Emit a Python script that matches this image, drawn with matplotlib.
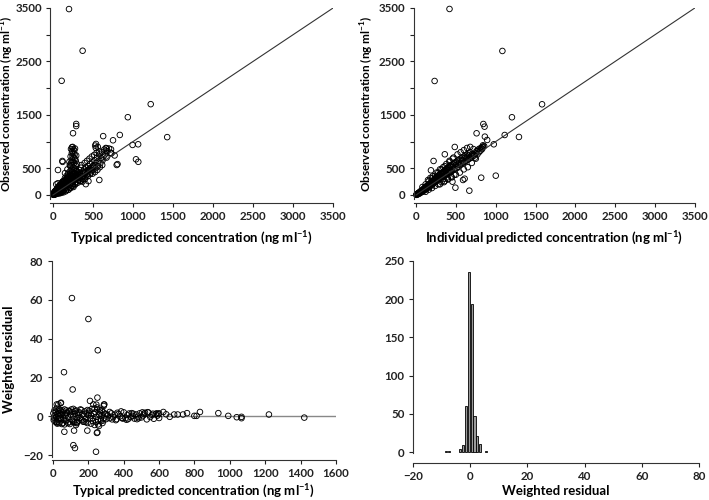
import matplotlib
matplotlib.use("Agg")
import matplotlib.pyplot as plt
import numpy as np

# ---- panel 1: observed vs typical predicted concentration (ng/ml) ----
typ_pred = [
    2, 5, 8, 10, 12, 15, 18, 20, 22, 25,
    28, 30, 32, 35, 38, 40, 42, 45, 48, 50,
    52, 55, 58, 60, 62, 65, 68, 70, 72, 75,
    78, 80, 82, 85, 88, 90, 92, 95, 98, 100,
    102, 105, 108, 110, 112, 115, 118, 120, 40, 60,
    15, 25, 35, 45, 55, 65, 75, 85, 95, 105,
    125, 130, 135, 140, 145, 150, 155, 160, 165, 170,
    175, 180, 185, 190, 195, 200, 205, 210, 215, 220,
    225, 230, 235, 240, 245, 250, 255, 260, 265, 270,
    275, 280, 285, 290, 295, 300, 128, 148, 168, 188,
    208, 228, 248, 268, 288, 142, 162, 182, 202, 222,
    242, 262, 282, 302, 318, 196, 216, 236, 256, 276,
    215, 225, 235, 245, 255, 265, 275, 285, 230, 250,
    260, 270, 240, 220, 280, 290, 245, 265, 255, 235,
    205, 300, 275, 225, 120, 150, 180, 210,
    310, 320, 330, 340, 350, 360, 370, 380, 390, 400,
    410, 420, 430, 440, 450, 460, 470, 480, 490, 500,
    510, 520, 530, 540, 550, 560, 570, 580, 590, 600,
    610, 620, 630, 640, 650, 660, 670, 680, 700, 720,
    345, 375, 405, 435, 465, 495, 525, 555, 585, 615,
    355, 395, 425, 455, 485, 515, 545, 575, 535, 560,
    10, 20, 30, 40, 50, 60, 70, 80, 90, 100,
    110, 130, 150, 170, 190, 210, 230, 250, 270, 290,
    115, 135, 155, 175, 195, 215, 235, 255, 275, 295,
    320, 340, 360, 380, 400, 420, 440, 460, 480, 500,
    130, 160, 190, 220, 250, 280, 310, 340, 370, 400,
    200, 370, 108, 1221, 935, 290, 290, 250, 627, 835,
    1427, 750, 994, 1064, 537, 527, 237, 1037, 1066, 796,
    806, 117, 62, 579, 443, 410, 670, 725, 730, 770, 660,
]
obs_typ = [
    5, 15, 3, 25, 10, 35, 8, 45, 20, 55,
    12, 30, 65, 18, 50, 80, 28, 95, 40, 110,
    22, 70, 130, 45, 90, 150, 35, 115, 60, 170,
    80, 140, 30, 100, 190, 55, 125, 75, 210, 160,
    40, 110, 230, 85, 180, 130, 60, 250, 200, 220,
    50, 70, 90, 60, 100, 110, 130, 60, 170, 190,
    150, 80, 200, 270, 110, 320, 180, 240, 90, 360,
    130, 290, 210, 400, 160, 340, 250, 440, 190, 380,
    300, 480, 230, 420, 350, 200, 520, 270, 460, 330,
    400, 240, 490, 370, 300, 420, 260, 230, 300, 330,
    320, 360, 390, 410, 450, 180, 160, 250, 270, 230,
    280, 300, 330, 360, 390, 100, 140, 170, 150, 210,
    540, 600, 660, 720, 780, 830, 870, 640, 560, 620,
    700, 760, 820, 720, 560, 740, 900, 600, 860, 780,
    620, 580, 680, 860, 620, 410, 480, 560,
    430, 330, 470, 380, 510, 300, 440, 360, 480, 410,
    520, 450, 390, 540, 470, 580, 420, 510, 610, 460,
    560, 650, 500, 600, 700, 540, 640, 760, 590, 690,
    800, 650, 720, 850, 760, 880, 700, 820, 870, 790,
    260, 290, 330, 350, 390, 400, 430, 470, 520, 560,
    560, 600, 640, 680, 720, 750, 790, 820, 880, 900,
    30, 60, 20, 70, 40, 100, 70, 50, 100, 140,
    160, 120, 210, 190, 250, 290, 260, 300, 280, 340,
    210, 240, 280, 320, 360, 400, 440, 400, 350, 450,
    280, 320, 350, 400, 430, 380, 470, 500, 460, 540,
    50, 70, 100, 130, 170, 200, 230, 260, 250, 300,
    3480, 2700, 2137, 1700, 1456, 1330, 1290, 1156, 1102, 1124,
    1083, 1024, 937, 949, 955, 925, 893, 668, 621, 562,
    578, 637, 468, 281, 259, 203, 874, 855, 780, 740, 830,
]

# ---- panel 2: observed vs individual predicted concentration ----
ind_pred = [
    3, 6, 10, 14, 18, 22, 26, 30, 35, 40,
    45, 50, 55, 60, 65, 70, 75, 80, 85, 90,
    95, 100, 105, 110, 115, 120, 125, 130, 135, 140,
    145, 150, 155, 160, 165, 170, 175, 180, 185, 190,
    195, 200, 205, 210, 215, 220, 225, 230, 235, 240,
    245, 250, 255, 260, 265, 270, 275, 280, 285, 290,
    295, 300, 305, 310, 315, 320, 325, 330, 335, 340,
    345, 350, 355, 360, 365, 370, 375, 380, 385, 390,
    395, 400, 405, 410, 415, 420, 425, 430, 435, 440,
    450, 460, 470, 480, 490, 500, 510, 520, 530, 540,
    550, 560, 570, 580, 590, 600, 610, 620, 630, 640,
    650, 660, 670, 680, 690, 700, 710, 720, 730, 740,
    750, 760, 770, 780, 790, 800, 810, 820, 830, 840,
    120, 160, 200, 240, 280, 320, 360, 400, 440, 480,
    80, 120, 160, 200, 240, 280, 320, 360, 420, 460,
    20, 40, 60, 80, 100, 130, 160, 190, 220, 250,
    150, 180, 210, 260, 300, 340, 380, 420, 470, 520,
    560, 600, 640, 680, 720, 300, 350, 400, 450, 500,
    550, 600, 650, 700, 750, 520, 580, 640, 700, 760,
    380, 420, 460, 500, 540, 580, 620, 660, 260, 300,
    420, 1084, 233, 1582, 1204, 845, 860, 760, 1113, 1292,
    864, 893, 976, 486, 361, 220, 187, 1001, 818, 610,
    590, 669, 494, 457, 830, 840, 820, 855,
]
obs_ind = [
    5, 2, 12, 20, 10, 28, 18, 35, 25, 50,
    30, 60, 45, 75, 50, 85, 60, 95, 70, 110,
    80, 120, 90, 140, 100, 150, 115, 165, 125, 170,
    135, 190, 150, 200, 145, 210, 165, 220, 175, 235,
    190, 250, 200, 260, 215, 280, 225, 290, 240, 310,
    250, 320, 260, 340, 270, 350, 290, 360, 300, 370,
    310, 390, 320, 400, 330, 410, 340, 420, 350, 430,
    300, 440, 360, 460, 370, 470, 380, 480, 390, 500,
    330, 510, 410, 520, 420, 540, 430, 550, 440, 560,
    450, 580, 470, 600, 490, 620, 510, 640, 530, 660,
    560, 680, 580, 700, 600, 720, 620, 740, 640, 760,
    660, 780, 680, 800, 700, 740, 720, 760, 740, 700,
    780, 820, 760, 850, 800, 870, 830, 880, 860, 900,
    60, 100, 130, 170, 200, 240, 260, 300, 340, 380,
    150, 200, 260, 310, 360, 420, 480, 540, 620, 680,
    25, 45, 55, 85, 100, 130, 175, 190, 220, 270,
    280, 320, 350, 420, 480, 520, 580, 640, 700, 760,
    800, 840, 880, 900, 860, 200, 240, 290, 330, 380,
    420, 480, 520, 600, 680, 580, 640, 700, 760, 820,
    420, 470, 520, 560, 600, 650, 700, 740, 300, 340,
    3482, 2696, 2134, 1698, 1455, 1329, 1279, 1155, 1123, 1086,
    1092, 1030, 949, 899, 762, 637, 462, 362, 324, 305,
    281, 81, 137, 249, 900, 930, 870, 915,
]

# ---- panel 3: weighted residual vs typical predicted concentration ----
typ_pred_res = [
    2, 5, 8, 10, 12, 15, 18, 20, 22, 25,
    28, 30, 32, 35, 38, 40, 42, 45, 48, 50,
    55, 60, 65, 70, 75, 80, 85, 90, 95, 100,
    105, 110, 115, 120, 125, 130, 135, 140, 145, 150,
    155, 160, 165, 170, 175, 180, 185, 190, 195, 200,
    205, 210, 215, 220, 225, 230, 235, 240, 245, 250,
    255, 260, 265, 270, 275, 280, 285, 290, 295, 300,
    15, 35, 55, 75, 95, 115, 135, 155, 175, 195,
    215, 235, 255, 275, 65, 130, 245, 260, 270, 250,
    310, 320, 330, 340, 350, 360, 370, 380, 390, 400,
    410, 420, 430, 440, 450, 460, 470, 480, 490, 500,
    510, 520, 530, 540, 550, 560, 570, 580, 590, 600,
    320, 355, 385, 415, 445, 475, 505, 535, 565, 595,
    4, 14, 24, 34, 44, 54, 64, 74, 84, 94,
    104, 114, 124, 134, 144, 164, 184, 204, 224, 244,
    264, 284, 304, 334, 364, 394, 424, 454, 484, 514,
    624, 640, 660, 685, 705, 735, 758, 799, 812, 831,
    935, 991, 1039, 1066, 1066, 1221, 1421, 585, 600,
    107, 200, 253, 62, 111, 209, 251, 21, 43, 288,
    287, 64, 119, 194, 251, 248, 115, 124, 243, 30,
    45, 228, 290, 21, 134,
]
wres = [
    1.5, -1, 3, 0.5, -2.5, 2, -0.5, 4, -3, 1,
    -1.5, 2.5, 0, -3.5, 1.5, -0.8, 3, -2, 0.8, -4,
    2, -1, 3.5, 0.3, -2.5, 1.8, -0.5, 2.8, -3, 0.8,
    -1.8, 2.2, 0, -3.2, 1.2, 3, -1, 0.5, -2.2, 2,
    -0.8, 3.2, 1, -2.8, 0.2, 2.5, -1.5, 1.5, -3.5, 0.6,
    2.8, -1.2, 0.4, 3.8, -2.5, 1.2, -4.5, 2.2, -0.3, 4.5,
    -2, 1, 3, -1.5, 0.5, -3.5, 2, -0.8, 1.2, -1.5,
    -3, 3.5, -3.5, 3, -4, 3.8, -3, 3.5, -2.8, 3.2,
    -3.8, 4, -4.2, 3, -4.2, -4.5, 6, -5, -2.5, 3.5,
    0.5, -1, 1.5, -0.5, 0.8, -1.5, 1.2, 0, -0.8, 2,
    -1, 0.6, 1.4, -0.4, 0.2, -1.2, 0.9, -0.2, 1.5, -0.6,
    0.4, 1.8, -1.6, 1.9, -0.4, 0.7, -1.3, 1.0, 0.3, -0.9,
    2.2, -2, 2.5, -1.8, 1.6, -1.5, 2.0, 2.1, 1.3, 1.1,
    -2, 2.5, -3.8, 1.2, -1, 3, -2, 1.5, -3.5, 2.5,
    3.5, -2.8, 2.6, -3.6, 1.8, -2, -3, 1.8, -1, -3,
    2, -2.2, 1, -1.6, 1.8, -1.2, -1.5, 1.3, -1, 1.2,
    2.2, 1.0, -0.3, 0.9, 0.9, 0.9, 1.6, 0.2, 0.2, 2.2,
    1.6, 0.2, -0.5, -0.3, -1.0, 0.9, -0.7, 1.5, 1.5,
    60.9, 50.1, 34.0, 22.7, 13.8, 7.9, 9.6, 6.1, 6.7, 6.0,
    5.3, -8.0, -7.4, -7.4, -8.3, -8.6, -14.9, -16.4, -18.3, 6.1,
    7.0, 6.1, 6.1, -3.2, -3.2,
]

# ---- panel 4: histogram of weighted residuals ----
wres_bins = [-8.5, -7.5, -3.5, -2.5, -1.5, -0.5, 0.5, 1.5, 2.5, 3.5, 5.5]
wres_counts = [1, 1, 4, 9, 60, 236, 194, 47, 21, 11, 1]

plt.rcParams['font.family'] = ['Lato', 'DejaVu Sans']
plt.rcParams['font.weight'] = 'bold'
plt.rcParams['axes.labelweight'] = 'bold'
plt.rcParams['mathtext.fontset'] = 'custom'
plt.rcParams['mathtext.rm'] = 'Lato'
plt.rcParams['mathtext.bf'] = 'Lato:bold'

unit = r'(ng ml$^{\mathbf{-1}}$)'


def style(ax, bottom_off):
    for s in ['top', 'right']:
        ax.spines[s].set_visible(False)
    ax.spines['bottom'].set_position(('outward', bottom_off))
    for s in ['left', 'bottom']:
        ax.spines[s].set_linewidth(0.8)
        ax.spines[s].set_color('#333333')
    ax.tick_params(direction='out', length=3, width=0.8, labelsize=8.3,
                   pad=3, colors='#222222')
    for lab in ax.get_xticklabels() + ax.get_yticklabels():
        lab.set_fontweight('bold')


fig = plt.figure(figsize=(7.09, 5.0), dpi=100)
circ = dict(s=16, facecolors='none', edgecolors='black', linewidths=0.65, clip_on=False)

# panel 1
ax1 = fig.add_axes([0.0708, 0.602, 0.399, 0.382])
ax1.scatter(typ_pred, obs_typ, **circ)
ax1.plot([0, 3500], [0, 3500], color='#333333', lw=0.8)
ax1.set_xlim(-35, 3500)
ax1.set_ylim(-75, 3500)
ax1.set_xticks(np.arange(0, 3501, 500))
ax1.set_yticks(np.arange(0, 3501, 500))
ax1.set_yticklabels(['0', '500', '', '1500', '', '2500', '', '3500'])
ax1.set_xlabel('Typical predicted concentration ' + unit, fontsize=9.5, labelpad=5)
ax1.set_ylabel('Observed concentration ' + unit, fontsize=8.5)
ax1.yaxis.set_label_coords(-0.12, 0.5)
style(ax1, 3)

# panel 2
ax2 = fig.add_axes([0.584, 0.602, 0.396, 0.382])
ax2.scatter(ind_pred, obs_ind, **circ)
ax2.plot([0, 3500], [0, 3500], color='#333333', lw=0.8)
ax2.set_xlim(-25, 3500)
ax2.set_ylim(-75, 3500)
ax2.set_xticks(np.arange(0, 3501, 500))
ax2.set_yticks(np.arange(0, 3501, 500))
ax2.set_yticklabels(['0', '500', '', '1500', '', '2500', '', '3500'])
ax2.set_xlabel('Individual predicted concentration ' + unit, fontsize=9.5, labelpad=5)
ax2.set_ylabel('Observed concentration ' + unit, fontsize=8.5)
ax2.yaxis.set_label_coords(-0.135, 0.5)
style(ax2, 3)

# panel 3
ax3 = fig.add_axes([0.0728, 0.086, 0.401, 0.392])
ax3.axhline(0, color='#888888', lw=1.0, zorder=0)
ax3.scatter(typ_pred_res, wres, **circ)
ax3.set_xlim(-8, 1600)
ax3.set_ylim(-21, 80)
ax3.set_xticks(np.arange(0, 1601, 200))
ax3.set_yticks(np.arange(-20, 81, 20))
ax3.set_yticklabels(['\u221220', '0', '20', '40', '60', '80'])
ax3.set_xlabel('Typical predicted concentration ' + unit, fontsize=9.5, labelpad=3)
ax3.set_ylabel('Weighted residual', fontsize=9.5)
ax3.yaxis.set_label_coords(-0.13, 0.5)
style(ax3, 2)

# panel 4
ax4 = fig.add_axes([0.5825, 0.0944, 0.4034, 0.384])
ax4.bar(wres_bins, wres_counts, width=0.75, color='#9a9a9a', edgecolor='black', linewidth=0.6)
ax4.set_xlim(-20, 80)
ax4.set_ylim(-1, 250)
ax4.set_xticks(np.arange(-20, 81, 20))
ax4.set_xticklabels(['\u221220', '0', '20', '40', '60', '80'])
ax4.set_yticks(np.arange(0, 251, 50))
ax4.set_xlabel('Weighted residual', fontsize=9.5, labelpad=2)
style(ax4, 7)

plt.savefig('out.png', dpi=100)
